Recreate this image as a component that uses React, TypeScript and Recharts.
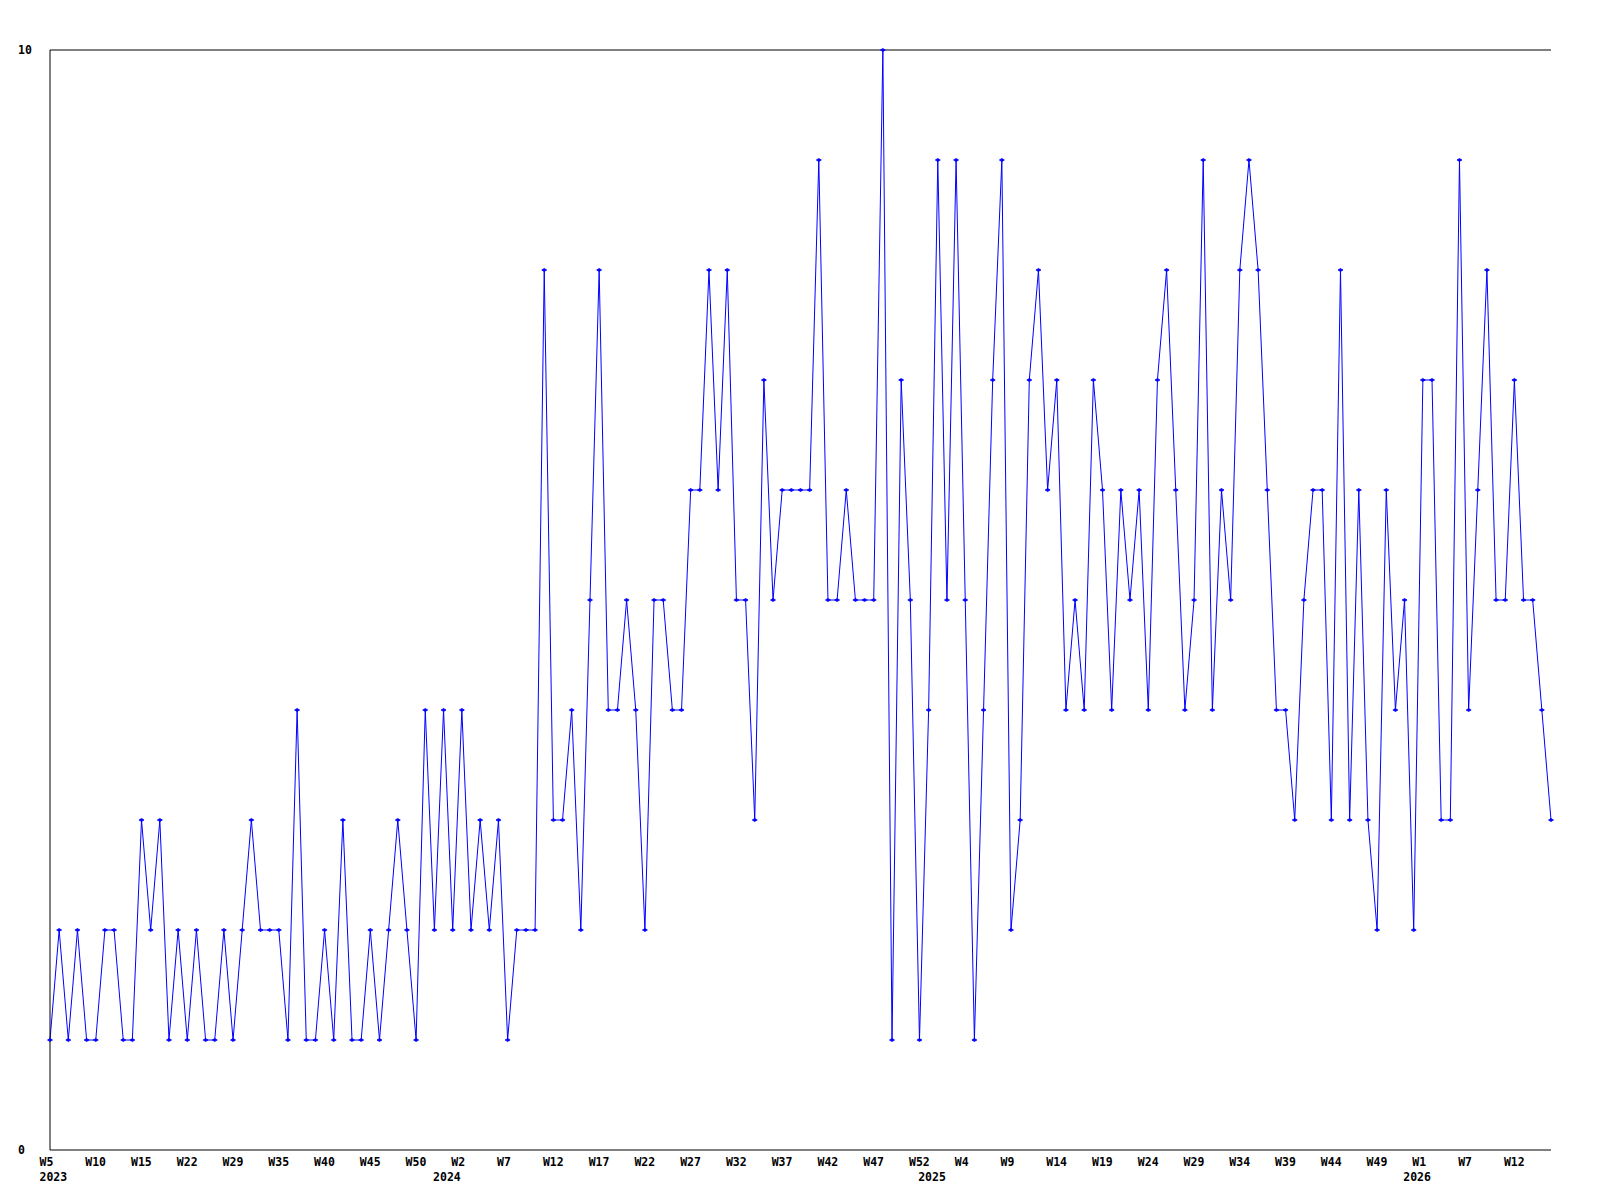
import { LineChart, Line, XAxis, YAxis, ReferenceLine } from 'recharts';

// week labels per year (a few weeks have no data and are skipped)
const range = (a: number, b: number) => {
  const out: string[] = [];
  for (let w = a; w <= b; w++) out.push('W' + w);
  return out;
};

const weeks2023 = [
  ...range(5, 17), 'W19', 'W20', 'W22', 'W23', 'W24', 'W26', 'W27', 'W29',
  'W30', 'W31', 'W32', 'W34', ...range(35, 52),
];
const weeks2024 = range(0, 52);
const weeks2025 = range(0, 52);
const weeks2026 = ['W0', 'W1', 'W2', 'W3', 'W5', 'W6', ...range(7, 16)];

const values2023 = [
  1, 2, 1, 2, 1, 1, 2, 2, 1, 1, 3, 2, 3, 1, 2, 1, 2, 1, 1, 2, 1, 2, 3, 2, 2, 2, 1, 4, 1, 1,
  2, 1, 3, 1, 1, 2, 1, 2, 3, 2, 1, 4, 2,
];
const values2024 = [
  4, 2, 4, 2, 3, 2, 3, 1, 2, 2, 2, 8, 3, 3, 4, 2,
  5, 8, 4, 4, 5, 4, 2, 5, 5, 4, 4, 6, 6, 8, 6, 8, 5, 5, 3, 7, 5, 6, 6, 6, 6, 9, 5, 5,
  6, 5, 5, 5, 10, 1, 7, 5, 1,
];
const values2025 = [
  4, 9, 5, 9, 5, 1, 4, 7, 9, 2, 3, 7, 8, 6, 7, 4, 5, 4, 7, 6,
  4, 6, 5, 6, 4, 7, 8, 6, 4, 5, 9, 4, 6, 5, 8, 9, 8, 6, 4, 4, 3, 5, 6, 6, 3, 8, 3, 6,
  3, 2, 6, 4, 5,
];
const values2026 = [2, 7, 7, 3, 3, 9, 4, 6, 8, 5, 5, 7, 5, 5, 4, 3];

const years = [
  { year: '2023', weeks: weeks2023, values: values2023 },
  { year: '2024', weeks: weeks2024, values: values2024 },
  { year: '2025', weeks: weeks2025, values: values2025 },
  { year: '2026', weeks: weeks2026, values: values2026 },
];

const data = years.flatMap(({ year, weeks, values }) =>
  weeks.map((week, i) => ({ key: year + '-' + week, year, week, value: values[i] }))
);
const keyIndex = new Map(data.map((d, i) => [d.key, i]));

const FONT = '"DejaVu Sans Mono", monospace';

function WeekTick(props: any) {
  const { x, y, payload } = props;
  const idx = keyIndex.get(payload.value) ?? 0;
  const row = data[idx];
  const showWeek = idx % 5 === 0;
  const showYear = idx === 0 || row.week === 'W0';
  if (!showWeek && !showYear) return <g />;
  return (
    <g>
      {showWeek && (
        <text x={x - 10.5} y={y} dy={14} textAnchor="start" fontFamily={FONT} fontWeight="bold" fontSize={11.5} fill="#000">
          {row.week}
        </text>
      )}
      {showYear && (
        <text x={x - 10.5} y={y} dy={29} textAnchor="start" fontFamily={FONT} fontWeight="bold" fontSize={11.5} fill="#000">
          {row.year}
        </text>
      )}
    </g>
  );
}

function ValueTick(props: any) {
  const { x, y, payload } = props;
  return (
    <text x={x - 30} y={y} dy={4} textAnchor="start" fontFamily={FONT} fontWeight="bold" fontSize={11.5} fill="#000">
      {payload.value}
    </text>
  );
}

function Marker(props: any) {
  const { cx, cy, index } = props;
  if (cx == null || cy == null) return <g key={index} />;
  return (
    <path
      key={index}
      d={`M${cx - 2.5},${cy} L${cx},${cy - 1.5} L${cx + 2.5},${cy} L${cx},${cy + 1.5} Z`}
      fill="#0000ff"
      stroke="#0000ff"
      strokeWidth={0.8}
    />
  );
}

export default function App() {
  return (
    <div style={{ position: 'absolute', left: 0, top: 0, width: 1600, height: 1200, background: '#fff' }}>
      <LineChart width={1600} height={1200} data={data} margin={{ top: 50, right: 49, left: 20, bottom: 0 }}>
        <XAxis
          dataKey="key"
          interval={0}
          height={50}
          tickSize={0}
          tickLine={false}
          axisLine={{ stroke: '#000' }}
          tick={<WeekTick />}
        />
        <YAxis
          domain={[0, 10]}
          ticks={[0, 10]}
          width={30}
          tickSize={0}
          tickLine={false}
          axisLine={{ stroke: '#000' }}
          tick={<ValueTick />}
        />
        <ReferenceLine y={10} stroke="#000" />
        <Line
          type="linear"
          dataKey="value"
          stroke="#0000ff"
          strokeWidth={1}
          dot={Marker}
          activeDot={false}
          isAnimationActive={false}
        />
      </LineChart>
    </div>
  );
}
